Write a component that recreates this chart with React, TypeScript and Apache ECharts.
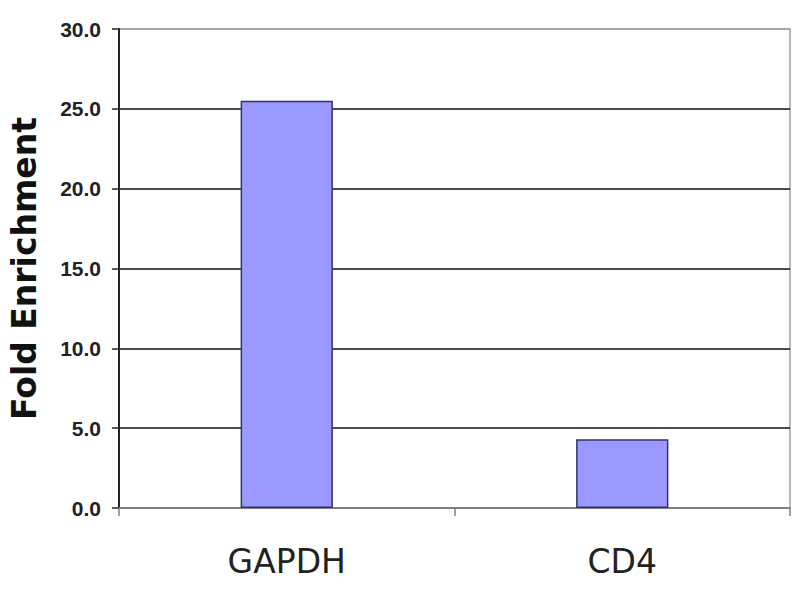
import React, { useEffect, useRef } from "react";
import * as echarts from "echarts";

const categories = ["GAPDH", "CD4"];
const foldEnrichment = [25.5, 4.3];
const yTicks = [0, 5, 10, 15, 20, 25, 30];

export default function App() {
  const ref = useRef<HTMLDivElement>(null);
  useEffect(() => {
    if (!ref.current) return;
    const chart = echarts.init(ref.current, null, { renderer: "svg" });
    chart.setOption({
      animation: false,
      backgroundColor: "#ffffff",
      grid: {
        left: 115,
        right: 10,
        top: 29,
        bottom: 92,
        show: true,
        borderColor: "#a0a0a0",
        borderWidth: 1.5,
      },
      xAxis: {
        type: "category",
        data: categories,
        boundaryGap: true,
        axisLine: { lineStyle: { color: "#808080", width: 2 } },
        axisTick: { show: true, length: 8, lineStyle: { color: "#808080", width: 1.5 } },
        axisLabel: {
          fontFamily: "DejaVu Sans",
          fontSize: 33,
          color: "#222222",
          margin: 37,
        },
      },
      yAxis: {
        type: "value",
        min: yTicks[0],
        max: yTicks[yTicks.length - 1],
        interval: 5,
        name: "Fold Enrichment",
        nameLocation: "middle",
        nameGap: 78,
        nameRotate: 90,
        nameTextStyle: {
          fontFamily: "DejaVu Sans",
          fontWeight: "bold",
          fontSize: 33,
          color: "#111111",
        },
        axisLine: { show: true, lineStyle: { color: "#222222", width: 2 } },
        axisTick: { show: true, length: 7, lineStyle: { color: "#222222", width: 1.5 } },
        axisLabel: {
          fontFamily: "Liberation Sans",
          fontWeight: "bold",
          fontSize: 21,
          color: "#222222",
          margin: 18,
          formatter: (v: number) => v.toFixed(1),
        },
        splitLine: {
          show: true,
          lineStyle: {
            color: ["#808080", "#111111", "#111111", "#111111", "#111111", "#111111", "#a0a0a0"],
            width: 1.5,
          },
        },
      },
      series: [
        {
          type: "bar",
          data: foldEnrichment,
          barWidth: "27.5%",
          itemStyle: {
            color: "#9999ff",
            borderColor: "#333366",
            borderWidth: 1.5,
          },
        },
      ],
    });
    return () => chart.dispose();
  }, []);
  return <div ref={ref} style={{ width: 800, height: 600, margin: -8 }} />;
}
